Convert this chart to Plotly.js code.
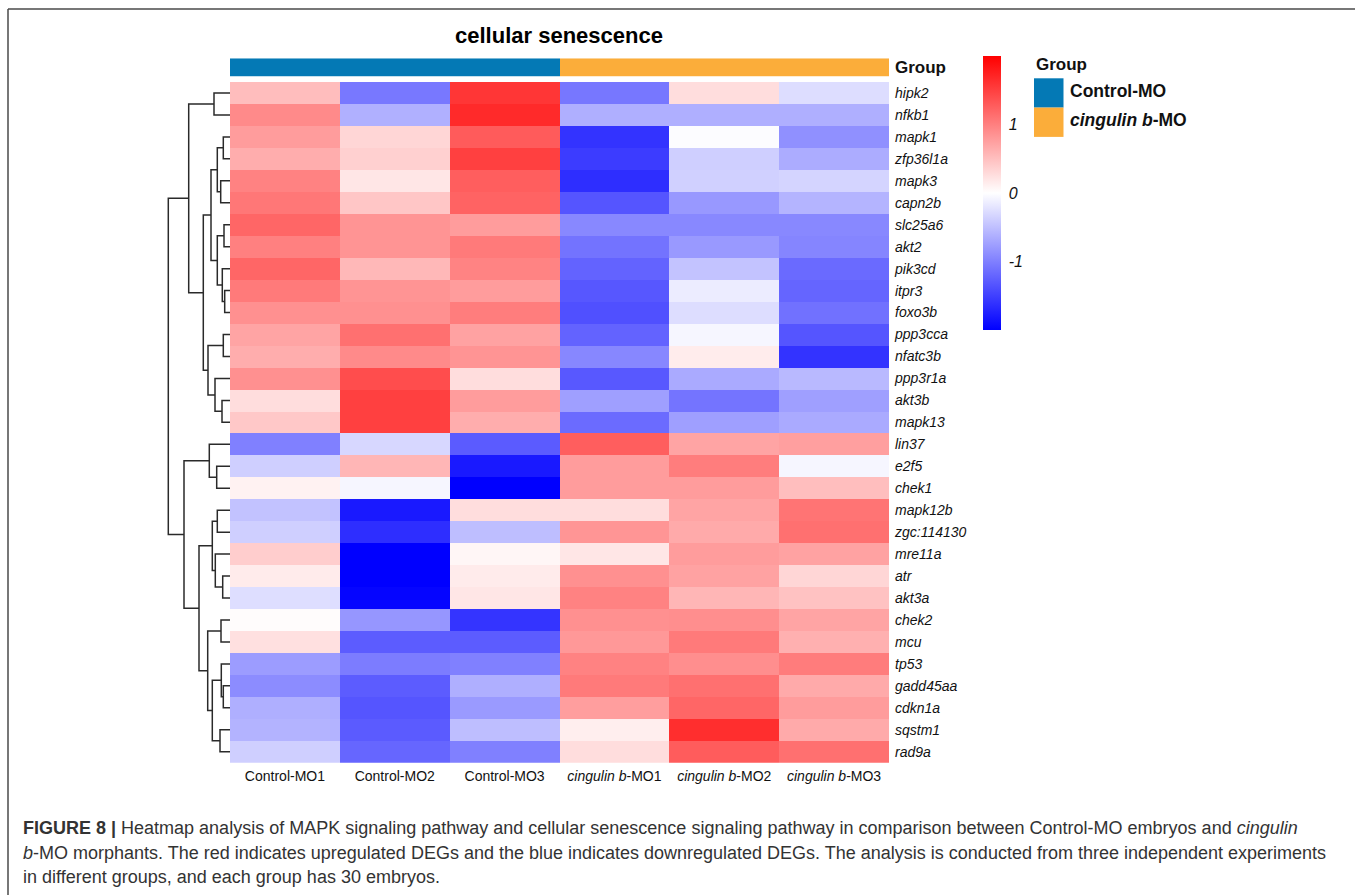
<!DOCTYPE html>
<html>
<head>
<meta charset="utf-8">
<script src="https://cdn.plot.ly/plotly-3.0.1.min.js"></script>
<style>html,body{margin:0;padding:0;background:#fff;}#chart{width:1355px;height:895px;}</style>
</head>
<body>
<div id="chart"></div>
<script>
// ---------------- DATA ----------------
const genes = ["hipk2","nfkb1","mapk1","zfp36l1a","mapk3","capn2b","slc25a6","akt2","pik3cd","itpr3","foxo3b","ppp3cca","nfatc3b","ppp3r1a","akt3b","mapk13","lin37","e2f5","chek1","mapk12b","zgc:114130","mre11a","atr","akt3a","chek2","mcu","tp53","gadd45aa","cdkn1a","sqstm1","rad9a"];
const samples = ["Control-MO1","Control-MO2","Control-MO3","<i>cingulin b</i>-MO1","<i>cingulin b</i>-MO2","<i>cingulin b</i>-MO3"];
const sampleGroup = [0,0,0,1,1,1];
const groupNames = ["<b>Control-MO</b>","<b><i>cingulin b</i>-MO</b>"];
const groupColors = ["#0479B5","#FBAD3A"];

const controlMO1 = [0.52,0.92,0.78,0.64,0.98,1.07,1.20,1.00,1.20,1.04,0.87,0.71,0.64,0.87,0.27,0.43,-1.00,-0.38,0.10,-0.48,-0.38,0.39,0.16,-0.26,0.02,0.24,-0.78,-0.90,-0.63,-0.60,-0.38];
const controlMO2 = [-1.06,-0.62,0.32,0.37,0.20,0.45,0.84,0.84,0.56,0.84,0.87,1.12,0.92,1.40,1.50,1.50,-0.31,0.57,-0.07,-1.80,-1.64,-2.00,-2.00,-1.96,-0.82,-1.28,-1.03,-1.28,-1.33,-1.29,-1.20];
const controlMO3 = [1.58,1.67,1.29,1.50,1.26,1.22,0.78,1.04,0.97,0.78,1.02,0.73,0.84,0.27,0.78,0.64,-1.29,-1.80,-2.00,0.27,-0.51,0.07,0.16,0.20,-1.59,-1.28,-1.00,-0.63,-0.79,-0.51,-1.00];
const cingulinMO1 = [-1.07,-0.63,-1.60,-1.53,-1.64,-1.33,-0.93,-1.10,-1.22,-1.32,-1.37,-1.22,-0.94,-1.31,-0.75,-1.16,1.26,0.78,0.78,0.27,0.83,0.20,0.87,0.98,0.87,0.81,0.98,1.04,0.76,0.13,0.27];
const cingulinMO2 = [0.27,-0.63,-0.02,-0.38,-0.37,-0.81,-0.93,-0.80,-0.47,-0.15,-0.27,-0.07,0.15,-0.67,-1.09,-0.75,0.71,1.02,0.78,0.71,0.67,0.78,0.73,0.57,0.89,1.04,0.89,1.12,1.20,1.64,1.28];
const cingulinMO3 = [-0.27,-0.63,-0.87,-0.65,-0.34,-0.59,-0.93,-0.96,-1.17,-1.21,-1.11,-1.33,-1.60,-0.55,-0.75,-0.67,0.75,-0.07,0.51,1.09,1.12,0.73,0.32,0.48,0.71,0.62,1.03,0.67,0.78,0.67,1.12];

// hierarchical clustering of rows (hclust style: negative = leaf number, positive = merge number)
const merges = [[-10,-11],[-7,-8],[-3,-4],[-12,-13],[-28,-29],[-23,-24],[-9,1],[-15,-16],[-27,5],[-25,-26],
  [-5,-6],[-30,-31],[2,7],[3,11],[-20,-21],[-18,-19],[-22,6],[-14,8],[-1,-2],[9,12],
  [15,17],[14,13],[-17,16],[4,18],[10,20],[22,24],[21,25],[19,26],[23,27],[28,29]];
const mergeHeights = [5.3,6.0,6.7,6.7,6.7,7.3,7.7,8.0,8.7,9.0,9.3,10.0,12.7,12.7,12.7,13.3,14.7,15.0,16.0,17.7,
  17.7,19.0,20.7,22.0,22.3,26.7,31.0,41.3,46.0,61.7];

const colorbarTicks = [-1,0,1];
const titleText = "cellular senescence";
const captionLines = [
  "<b>FIGURE 8 |</b> Heatmap analysis of MAPK signaling pathway and cellular senescence signaling pathway in comparison between Control-MO embryos and <i>cingulin</i>",
  "<i>b</i>-MO morphants. The red indicates upregulated DEGs and the blue indicates downregulated DEGs. The analysis is conducted from three independent experiments",
  "in different groups, and each group has 30 embryos."
];

// ---------------- BUILD ----------------
const W = 1355, H = 895;
const fx = p => p / W;
const fy = p => 1 - p / H;
const FONT = "Liberation Sans, Arial, Helvetica, sans-serif";

const cols = [controlMO1, controlMO2, controlMO3, cingulinMO1, cingulinMO2, cingulinMO3];
const rowIdx = genes.map((g,i)=>i);
const colIdx = samples.map((s,i)=>i);
const z = genes.map((g,i)=>cols.map(c=>c[i]));

// dendrogram segments
const dx = [], dy = [];
const cache = {};
function nodePos(id){
  if (id < 0) return {y: -id - 1, h: 0};
  if (cache[id]) return cache[id];
  const [a,b] = merges[id-1];
  const h = mergeHeights[id-1];
  const A = nodePos(a), B = nodePos(b);
  dx.push(A.h, h, h, B.h, null);
  dy.push(A.y, A.y, B.y, B.y, null);
  cache[id] = {y: (A.y + B.y)/2, h: h};
  return cache[id];
}
nodePos(merges.length);

const traces = [
  {
    type: 'heatmap', x: colIdx, y: rowIdx, z: z,
    xaxis: 'x', yaxis: 'y',
    zmin: -2, zmax: 2,
    colorscale: [[0,'rgb(0,0,255)'],[0.5,'rgb(255,255,255)'],[1,'rgb(255,0,0)']],
    hoverinfo: 'skip',
    colorbar: {
      x: fx(983), xanchor: 'left', xref: 'paper',
      y: fy(56), yanchor: 'top', yref: 'paper',
      len: 274, lenmode: 'pixels', thickness: 18,
      xpad: 0, ypad: 0, outlinewidth: 0,
      tickmode: 'array', tickvals: colorbarTicks,
      ticktext: colorbarTicks.map(v => '<i>' + v + '</i>'),
      ticks: 'outside', ticklen: 5, tickcolor: 'rgba(0,0,0,0)',
      tickfont: {family: FONT, size: 16, color: '#111'}
    }
  },
  {
    type: 'heatmap', x: colIdx, y: [0], z: [sampleGroup],
    xaxis: 'x', yaxis: 'y3',
    zmin: 0, zmax: 1, showscale: false, hoverinfo: 'skip',
    colorscale: [[0,groupColors[0]],[0.5,groupColors[0]],[0.5,groupColors[1]],[1,groupColors[1]]]
  },
  {
    type: 'scatter', mode: 'lines', x: dx, y: dy,
    xaxis: 'x2', yaxis: 'y',
    line: {color: '#2a2a2a', width: 1.5},
    hoverinfo: 'skip', showlegend: false, connectgaps: false
  }
];

const shapes = [
  {type:'line', xref:'paper', yref:'paper', x0:fx(8), x1:1.01, y0:fy(9), y1:fy(9), line:{color:'#4a4a4a', width:1.5}},
  {type:'line', xref:'paper', yref:'paper', x0:fx(8), x1:fx(8), y0:fy(9), y1:-0.01, line:{color:'#4a4a4a', width:1.5}}
];
groupColors.forEach((c,i)=>{
  shapes.push({type:'rect', xref:'paper', yref:'paper', x0:fx(1034), x1:fx(1063.5),
    y0:fy(78.3 + i*29.3), y1:fy(78.3 + (i+1)*29.3), fillcolor:c, line:{width:0}});
});

const annotations = [
  {text:'<b>Group</b>', xref:'paper', yref:'paper', x:fx(1034), y:fy(64), xanchor:'left', yanchor:'middle', showarrow:false, font:{family:FONT, size:17, color:'#111'}}
];
groupNames.forEach((n,i)=>{
  annotations.push({text:n, xref:'paper', yref:'paper', x:fx(1068), y:fy(90.5 + i*29.3), xanchor:'left', yanchor:'middle', showarrow:false, font:{family:FONT, size:17.5, color:'#111'}});
});
captionLines.forEach((t,i)=>{
  annotations.push({text:t, xref:'paper', yref:'paper', x:fx(21), y:fy(828 + i*24.5), xanchor:'left', yanchor:'middle', showarrow:false, font:{family:FONT, size:18, color:'#333'}});
});

const layout = {
  width: W, height: H,
  margin: {l:0, r:0, t:0, b:0},
  paper_bgcolor: '#fff', plot_bgcolor: 'rgba(0,0,0,0)',
  showlegend: false,
  title: {text: '<b>' + titleText + '</b>', x: fx(559), xanchor: 'center', y: fy(35), yanchor: 'middle', xref: 'paper', yref: 'container', font: {family: FONT, size: 22, color: '#000'}},
  xaxis: {
    domain: [fx(230), fx(889)], anchor: 'y',
    range: [-0.5, 5.5], showgrid: false, zeroline: false, showline: false,
    tickmode: 'array', tickvals: colIdx, ticktext: samples, ticks: '',
    ticklabelstandoff: 3,
    tickfont: {family: FONT, size: 14, color: '#111'}, fixedrange: true
  },
  yaxis: {
    domain: [fy(762.7), fy(82)], anchor: 'x', side: 'right',
    range: [genes.length - 0.5, -0.5], showgrid: false, zeroline: false, showline: false,
    tickmode: 'array', tickvals: rowIdx, ticktext: genes.map(g => '<i>' + g + '</i>'), ticks: '',
    ticklabelstandoff: 5,
    tickfont: {family: FONT, size: 14, color: '#111'}, fixedrange: true
  },
  xaxis2: {
    domain: [fx(160), fx(230)], anchor: 'y', range: [70, 0],
    showgrid: false, zeroline: false, showline: false, showticklabels: false, ticks: '', fixedrange: true
  },
  yaxis3: {
    domain: [fy(76.7), fy(58.3)], anchor: 'x', side: 'right',
    range: [-0.5, 0.5], showgrid: false, zeroline: false, showline: false,
    tickmode: 'array', tickvals: [0], ticktext: ['<b>Group</b>'], ticks: '',
    ticklabelstandoff: 5,
    tickfont: {family: FONT, size: 17, color: '#111'}, fixedrange: true
  },
  shapes: shapes,
  annotations: annotations
};

Plotly.newPlot('chart', traces, layout, {displayModeBar: false, staticPlot: true});
</script>
</body>
</html>
